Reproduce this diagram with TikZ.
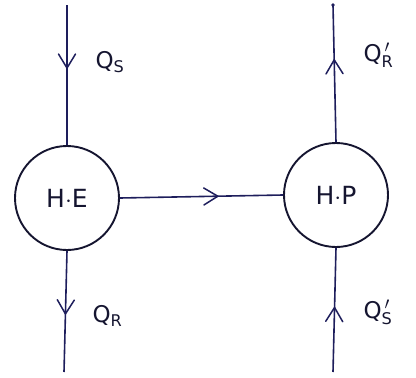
\documentclass[tikz,border=0pt]{standalone}
\usepackage{fontspec}
\setmainfont{DejaVu Sans}
\usetikzlibrary{decorations.markings}
\definecolor{ink}{HTML}{1E1E5C}
\definecolor{pen}{HTML}{151530}
\tikzset{
  unit/.style={draw=pen, line width=1.9pt, circle, minimum size=104pt, inner sep=0pt, font=\fontsize{25}{25}\selectfont, text=pen},
  flow/.style={draw=ink, line width=1.6pt},
  midarrow/.style={postaction={decorate}, decoration={markings, mark=at position #1 with {\draw[ink, line width=1.5pt, line cap=round, line join=round] (-14pt,-8.5pt) -- (0pt,0pt) -- (-14pt,8.5pt);}}},
  qlabel/.style={font=\fontsize{23}{23}\selectfont, text=pen, anchor=west}
}
\begin{document}
\begin{tikzpicture}[x=1pt,y=-1pt]
\useasboundingbox (0,0) rectangle (416,378);
\node[unit] (he) at (67,198) {H$\cdot$E};
\node[unit] (hp) at (336,195) {H$\cdot$P};
\coordinate (heTop) at (67,5);
\coordinate (heBot) at (64,372);
\coordinate (hpTop) at (333,5);
\coordinate (hpBot) at (333,372);
\draw[flow, midarrow=0.45] (heTop) -- (he.north);
\draw[flow, midarrow=0.52] (he.south) -- (heBot);
\draw[flow, midarrow=0.6] (he.east) -- (hp.west);
\draw[flow, midarrow=0.6] (hp.north) -- (hpTop);
\draw[flow, midarrow=0.52] (hpBot) -- (hp.south);
\fill[ink] (hpTop) circle (1.8pt);
\node[qlabel] (qs) at (92,62) {Q$_{\mathrm{S}}$};
\node[qlabel] (qr) at (89,316) {Q$_{\mathrm{R}}$};
\node[qlabel] (qrp) at (360,55) {Q$_{\mathrm{R}}^{\,\prime}$};
\node[qlabel] (qsp) at (360,312) {Q$_{\mathrm{S}}^{\,\prime}$};
\end{tikzpicture}
\end{document}
